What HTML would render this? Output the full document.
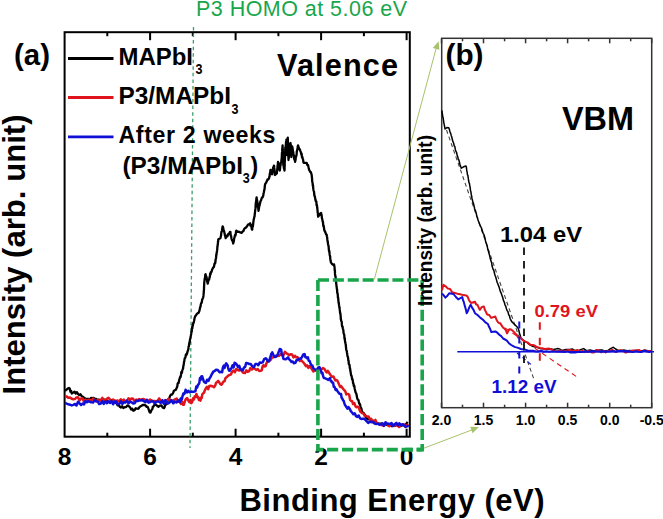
<!DOCTYPE html>
<html><head><meta charset="utf-8"><style>
html,body{margin:0;padding:0;background:#fff;width:663px;height:519px;overflow:hidden}
svg{display:block}
</style></head><body>
<svg width="663" height="519" viewBox="0 0 663 519">
<rect width="663" height="519" fill="#fff"/>
<rect x="64.6" y="32.2" width="345.2" height="404.5" fill="none" stroke="#000" stroke-width="2"/>
<line x1="107.3" y1="32.2" x2="107.3" y2="36.2" stroke="#000" stroke-width="2"/>
<line x1="107.3" y1="436.7" x2="107.3" y2="432.7" stroke="#000" stroke-width="2"/>
<line x1="150.1" y1="32.2" x2="150.1" y2="40.2" stroke="#000" stroke-width="2"/>
<line x1="150.1" y1="436.7" x2="150.1" y2="428.7" stroke="#000" stroke-width="2"/>
<line x1="192.8" y1="32.2" x2="192.8" y2="36.2" stroke="#000" stroke-width="2"/>
<line x1="192.8" y1="436.7" x2="192.8" y2="432.7" stroke="#000" stroke-width="2"/>
<line x1="235.6" y1="32.2" x2="235.6" y2="40.2" stroke="#000" stroke-width="2"/>
<line x1="235.6" y1="436.7" x2="235.6" y2="428.7" stroke="#000" stroke-width="2"/>
<line x1="278.4" y1="32.2" x2="278.4" y2="36.2" stroke="#000" stroke-width="2"/>
<line x1="278.4" y1="436.7" x2="278.4" y2="432.7" stroke="#000" stroke-width="2"/>
<line x1="321.1" y1="32.2" x2="321.1" y2="40.2" stroke="#000" stroke-width="2"/>
<line x1="321.1" y1="436.7" x2="321.1" y2="428.7" stroke="#000" stroke-width="2"/>
<line x1="363.9" y1="32.2" x2="363.9" y2="36.2" stroke="#000" stroke-width="2"/>
<line x1="363.9" y1="436.7" x2="363.9" y2="432.7" stroke="#000" stroke-width="2"/>
<line x1="406.6" y1="32.2" x2="406.6" y2="40.2" stroke="#000" stroke-width="2"/>
<line x1="406.6" y1="436.7" x2="406.6" y2="428.7" stroke="#000" stroke-width="2"/>
<line x1="193.5" y1="27" x2="190" y2="448" stroke="#3a9d6a" stroke-width="1.3" stroke-dasharray="3.5,3.05"/>
<polyline points="65.0,390.8 66.3,389.8 67.7,388.6 69.0,388.0 69.7,388.4 70.4,391.7 71.1,390.8 71.8,393.5 73.2,392.6 74.5,391.7 75.7,393.5 76.9,392.1 78.1,394.1 79.3,395.0 80.5,394.3 81.7,396.2 83.1,396.8 84.4,398.0 85.8,399.0 87.1,398.9 88.4,398.8 89.7,399.5 91.0,398.0 92.3,398.2 93.6,397.9 94.9,398.9 96.2,398.9 97.5,400.3 98.8,399.6 100.1,400.4 101.3,399.6 102.6,400.8 103.9,399.4 105.2,400.7 106.5,400.4 107.8,401.7 109.1,402.1 110.4,401.5 111.7,400.9 113.0,401.6 114.3,402.5 115.4,402.4 116.5,403.3 117.7,405.4 118.8,404.5 119.9,406.9 121.0,407.6 122.2,406.2 123.3,408.0 124.7,407.2 126.1,407.1 127.4,405.4 128.8,406.2 129.9,407.1 131.1,409.5 132.2,408.6 133.3,410.7 134.6,410.2 135.8,408.2 137.1,408.7 138.3,408.8 139.6,407.0 141.2,405.9 142.7,405.0 144.2,404.9 145.8,405.6 146.6,406.9 147.4,406.6 148.2,408.0 148.9,410.2 149.7,412.4 150.5,412.5 151.1,411.1 151.7,409.8 152.3,409.2 152.9,406.6 153.5,406.6 154.1,405.2 155.6,404.4 157.0,405.7 158.4,406.7 159.9,405.6 161.3,405.3 162.6,407.4 164.0,408.1 164.6,407.1 165.3,404.6 165.9,403.6 166.6,404.2 167.2,403.0 167.9,399.4 168.5,399.6 169.2,399.0 169.8,396.5 170.9,394.7 172.0,394.5 173.1,393.1 173.9,390.7 174.8,390.3 175.7,389.9 176.5,388.2 176.9,387.2 177.3,386.4 177.7,383.4 178.2,382.8 178.6,382.9 179.0,380.9 179.4,379.3 179.8,378.2 180.2,376.7 180.6,377.0 181.0,374.7 181.4,372.0 181.9,372.8 182.3,370.3 182.7,369.4 183.1,368.3 183.3,366.1 183.6,365.3 183.8,363.6 184.1,361.5 184.3,361.5 184.6,358.7 184.8,358.3 185.4,357.7 185.9,354.3 186.4,354.9 187.0,353.6 187.6,351.4 188.1,350.0 188.4,349.2 188.6,346.6 188.9,346.5 189.1,344.4 189.4,342.5 189.6,343.1 189.9,340.2 190.2,338.8 190.4,338.7 190.7,336.1 190.9,335.5 191.2,333.7 191.4,331.5 191.7,331.9 191.9,329.1 192.1,327.2 192.4,328.3 192.6,324.9 192.9,325.6 193.1,323.1 193.6,323.1 194.1,320.8 194.6,318.0 195.0,316.8 195.5,315.9 196.0,315.4 196.9,313.9 197.8,313.2 198.6,312.9 199.5,310.5 199.8,308.9 200.2,307.0 200.5,306.9 200.8,304.5 201.2,303.1 201.5,303.1 201.8,302.2 202.2,299.3 202.5,299.0 202.8,298.4 203.2,297.3 203.5,295.4 203.6,293.7 203.7,293.7 203.8,290.5 203.9,290.5 204.0,289.3 204.0,288.3 204.1,285.9 204.2,283.5 204.3,282.0 204.4,281.9 204.5,280.5 204.8,278.1 205.1,277.7 205.3,274.7 205.6,274.2 205.9,276.3 206.2,276.2 206.5,277.0 206.8,278.8 207.1,280.9 207.4,282.5 207.7,283.7 208.1,282.1 208.4,280.3 208.8,279.8 209.1,279.7 209.5,277.3 209.8,277.1 210.2,273.5 210.5,274.7 210.9,272.1 211.5,271.9 212.1,269.8 212.7,268.5 213.3,267.3 213.9,267.1 214.5,263.7 215.1,263.6 215.3,262.6 215.5,261.0 215.7,259.0 215.9,258.8 216.1,257.4 216.3,254.4 216.5,254.6 216.7,252.6 216.9,251.4 217.1,250.4 217.3,248.7 217.4,246.2 217.6,246.3 217.7,244.3 217.9,244.3 218.0,241.2 218.2,241.4 218.3,239.2 220.4,238.2 220.6,237.5 220.9,235.9 221.1,235.3 221.4,231.8 221.6,232.0 221.9,230.7 222.1,229.6 222.4,227.6 222.6,226.5 222.9,226.7 223.3,228.3 223.6,230.7 224.0,230.9 224.3,231.9 224.7,233.9 225.0,235.5 225.4,237.0 225.7,238.2 226.6,235.7 227.4,236.4 228.3,233.9 229.1,233.8 230.0,231.8 230.4,231.8 230.7,235.6 231.1,235.9 231.4,238.2 231.8,239.6 232.1,240.5 232.5,239.9 232.8,241.8 233.2,243.5 233.5,241.5 233.8,241.7 234.1,238.9 234.4,237.7 234.8,236.1 235.1,234.8 235.4,235.7 235.7,234.5 236.0,231.6 236.3,230.7 237.6,231.9 238.9,231.7 240.3,232.4 241.6,232.9 242.5,231.5 243.4,231.1 244.2,229.0 245.1,228.0 246.0,227.6 246.9,226.5 248.0,224.6 249.0,224.2 250.1,223.3 250.5,225.7 250.9,224.6 251.4,226.1 251.8,229.2 252.2,229.7 252.4,227.1 252.7,226.2 252.9,226.4 253.1,224.3 253.4,221.9 253.6,220.1 253.8,219.2 254.1,217.9 254.3,217.0 254.5,216.5 254.6,215.6 254.8,213.8 254.9,212.8 255.1,211.6 255.2,210.1 255.4,208.9 255.5,207.8 255.7,204.2 255.8,203.5 256.0,202.0 256.1,201.6 256.3,200.0 256.4,198.3 256.6,197.4 256.8,199.6 257.0,199.8 257.2,200.7 257.4,202.2 257.6,204.1 257.7,205.8 257.9,207.0 258.1,208.0 258.3,208.7 258.5,210.9 258.8,209.3 259.0,207.7 259.3,205.9 259.6,205.5 259.9,203.2 260.1,203.2 260.4,201.3 261.1,200.3 261.9,197.5 262.6,197.3 263.3,195.5 263.5,193.6 263.8,192.5 264.0,191.5 264.2,190.4 264.5,189.3 264.7,187.5 265.0,184.7 265.2,184.0 266.0,182.9 266.8,181.3 267.5,179.3 268.3,179.5 269.1,178.2 269.3,176.8 269.6,176.4 269.8,173.6 270.0,173.6 270.3,171.4 270.5,170.0 271.0,170.4 271.5,173.4 272.0,174.3 272.3,172.3 272.6,171.5 272.9,168.8 273.3,167.2 273.6,168.1 273.9,165.6 274.1,165.8 274.2,167.4 274.4,168.8 274.5,169.9 274.7,173.2 274.8,174.9 275.0,175.0 276.8,173.4 276.9,172.4 277.1,170.3 277.2,170.1 277.4,167.7 277.6,165.3 277.7,165.3 277.9,163.1 278.0,162.0 278.3,162.8 278.6,164.4 278.9,166.0 279.1,166.8 279.4,169.4 279.7,170.5 279.9,170.2 280.1,168.1 280.3,165.4 280.5,165.8 280.8,162.8 281.0,162.7 281.2,162.4 281.4,160.6 281.6,158.9 281.7,158.6 281.8,156.9 281.9,154.3 282.0,152.6 282.1,152.0 282.2,151.3 282.3,148.8 282.4,147.7 282.5,147.4 282.6,145.4 282.6,146.3 282.7,148.3 282.7,149.4 282.8,151.7 282.8,150.7 282.9,152.4 282.9,155.3 283.0,156.3 283.0,156.1 283.1,157.5 283.1,159.0 283.2,161.2 283.2,163.4 283.3,163.0 283.3,165.0 283.6,165.6 283.9,168.2 284.2,168.9 284.5,170.5 284.5,170.0 284.6,169.1 284.6,167.5 284.7,165.6 284.7,163.7 284.8,161.2 284.8,161.7 284.9,159.3 284.9,158.1 285.0,157.2 285.0,156.7 285.1,154.2 285.1,153.8 285.2,152.6 285.2,150.0 285.3,147.6 285.5,147.0 285.6,147.1 285.8,145.5 285.9,144.7 286.1,141.4 286.2,141.0 286.4,139.6 286.5,142.1 286.5,142.5 286.6,144.2 286.7,146.4 286.7,145.8 286.8,146.8 286.8,150.3 286.9,151.0 287.0,151.4 287.0,154.5 287.1,155.0 287.2,153.1 287.2,151.4 287.3,150.5 287.3,148.5 287.4,148.1 287.4,147.7 287.5,145.6 287.5,145.6 287.6,141.8 287.6,140.8 287.7,139.4 287.7,139.2 287.8,137.7 287.8,138.2 287.9,140.8 287.9,141.7 288.0,143.2 288.0,145.2 288.0,146.3 288.1,148.0 288.1,147.3 288.2,149.2 288.2,152.0 288.3,151.9 288.3,152.9 288.3,154.7 288.4,155.2 288.4,158.3 288.5,159.0 288.5,160.0 288.6,157.5 288.8,158.3 288.9,155.7 289.0,153.5 289.2,153.0 289.3,151.2 289.5,151.0 289.7,148.1 289.9,145.8 290.1,144.9 290.3,143.2 290.5,143.0 290.6,144.5 290.7,145.3 290.7,148.1 290.8,147.8 290.9,148.7 291.0,151.3 291.1,151.8 291.1,153.7 291.2,154.9 291.3,157.0 291.4,154.8 291.5,154.7 291.6,154.2 291.8,151.4 291.9,150.7 292.0,148.6 292.1,148.8 292.2,146.4 292.4,148.0 292.6,148.0 292.9,151.3 293.1,151.4 293.3,152.4 293.5,155.0 293.8,155.1 294.1,158.6 294.5,159.6 294.8,160.1 295.1,161.8 295.3,160.6 295.6,159.6 295.8,156.6 296.1,156.9 296.3,155.5 296.6,154.8 296.8,151.1 297.0,151.1 297.3,149.5 297.5,149.0 297.8,146.4 298.0,145.4 298.6,147.2 299.2,149.2 299.7,149.1 300.3,150.9 300.9,152.2 301.3,154.5 301.6,153.6 302.0,157.4 302.4,157.0 302.7,158.7 303.1,159.6 303.4,162.2 303.8,162.8 305.2,162.9 306.7,162.8 307.3,165.0 308.0,165.0 308.6,167.6 309.2,169.9 309.8,171.1 310.3,172.1 310.9,172.2 311.5,174.3 311.7,175.2 311.9,177.3 312.0,177.8 312.2,181.6 312.4,182.0 312.6,183.1 312.8,185.9 313.0,185.2 313.2,187.8 313.4,189.5 313.6,190.5 313.8,191.3 314.0,191.5 314.2,194.0 314.4,195.5 314.9,196.7 315.4,199.6 315.8,201.1 316.3,201.3 316.5,203.9 316.6,205.3 316.8,204.6 317.0,205.7 317.2,207.8 317.3,208.4 317.5,210.1 317.7,212.7 317.9,213.1 318.0,215.6 318.2,216.7 319.2,215.1 320.1,213.6 321.1,212.9 321.4,215.5 321.6,214.9 321.9,218.2 322.1,218.6 322.4,220.0 322.7,221.7 322.9,221.7 323.2,224.6 323.4,226.3 323.7,225.8 324.0,227.9 324.2,229.7 324.5,230.6 325.2,231.9 326.0,234.1 326.7,234.8 326.9,236.5 327.1,236.9 327.3,239.2 327.5,240.8 327.7,241.3 327.9,242.9 328.1,244.4 328.3,245.3 328.5,245.6 328.7,247.7 328.9,250.0 329.1,251.2 329.3,250.8 329.5,253.1 329.7,254.7 329.9,255.9 330.1,256.2 330.3,258.8 330.5,260.3 330.7,261.2 330.9,262.4 332.5,264.6 334.1,264.5 334.2,266.1 334.4,266.0 334.6,268.0 334.7,270.5 334.9,270.2 335.0,273.9 335.1,274.6 335.3,276.1 335.4,275.9 335.6,276.9 335.8,280.5 335.9,280.9 336.1,282.1 336.2,283.6 336.4,284.9 336.6,286.9 336.7,287.2 336.9,289.5 337.1,289.2 337.2,292.6 337.4,293.2 337.6,293.5 337.8,295.2 337.9,297.6 338.1,297.4 338.3,299.7 338.5,301.6 338.6,303.0 338.8,302.5 339.0,305.2 339.2,306.0 339.4,307.8 339.5,307.2 339.7,309.4 339.9,310.8 340.1,313.0 340.2,313.4 340.4,313.6 340.6,315.3 340.8,318.3 340.9,319.7 341.1,320.0 341.4,321.6 341.7,321.7 341.9,324.9 342.2,326.5 342.5,326.4 342.8,328.3 343.1,329.2 343.3,330.0 343.6,333.1 343.9,333.9 344.1,334.3 344.3,335.4 344.5,338.9 344.8,338.1 345.0,341.1 345.2,342.5 345.4,342.4 345.6,344.0 345.8,344.9 346.0,347.4 346.2,349.4 346.4,350.1 346.7,350.8 346.9,352.2 347.1,353.2 347.3,354.7 347.6,356.6 347.8,356.7 348.1,358.0 348.3,360.5 348.6,360.7 348.8,363.9 349.1,364.5 349.3,364.4 349.6,365.3 349.8,368.2 350.1,368.3 350.3,370.6 350.6,372.1 350.8,373.2 351.1,375.3 351.5,375.6 351.8,377.3 352.1,379.3 352.4,378.9 352.8,380.7 353.1,383.3 353.4,383.4 353.8,386.2 354.1,385.3 354.4,386.7 354.7,388.7 355.1,390.3 355.4,391.7 355.8,392.7 356.3,393.6 356.7,395.5 357.1,397.9 357.6,399.3 358.0,399.8 358.5,400.2 358.9,402.1 359.3,403.6 359.8,403.8 360.2,404.9 360.6,408.1 361.1,408.0 361.5,409.0 362.0,412.0 362.4,412.5 363.4,412.7 364.3,414.1 365.3,415.0 366.3,418.1 367.2,418.7 368.2,419.4 369.5,419.2 370.9,419.5 372.2,422.2 373.5,420.8 374.9,422.9 376.2,422.9 377.5,423.6 378.8,423.6 380.1,423.6 381.4,423.7 382.6,423.6 383.9,424.8 385.2,423.8 386.5,424.9 387.8,425.2 389.2,424.6 390.5,424.9 391.9,426.2 393.2,425.4 394.6,425.6 395.9,425.6 397.2,423.9 398.6,425.9 399.9,426.2 401.3,425.8 402.6,425.3 404.0,425.2 405.2,424.9 406.3,424.0 407.5,421.7" fill="none" stroke="#000" stroke-width="2.3" stroke-linejoin="round"/>
<polyline points="65.0,397.0 66.7,396.3 68.3,397.8 70.0,397.5 71.7,398.7 73.3,399.2 75.0,399.0 76.5,397.4 78.0,397.3 79.5,400.6 81.0,398.4 82.5,398.4 84.0,401.6 85.5,399.6 87.0,401.1 88.5,399.8 90.0,400.0 91.5,400.5 93.1,398.5 94.6,400.4 96.2,401.3 97.7,399.9 99.2,400.7 100.8,400.4 102.3,397.9 103.8,400.7 105.4,400.0 106.9,398.8 108.5,397.7 110.0,399.5 111.5,401.0 113.1,399.5 114.6,400.5 116.2,401.2 117.7,400.5 119.2,401.4 120.8,399.3 122.3,401.0 123.8,399.6 125.4,401.6 126.9,401.4 128.5,398.4 130.0,400.0 131.5,398.5 133.1,398.8 134.6,401.7 136.2,399.6 137.7,400.3 139.2,399.0 140.8,399.8 142.3,399.2 143.8,399.1 145.4,400.0 146.9,399.9 148.5,401.2 150.0,399.5 151.5,400.3 153.1,401.3 154.6,401.0 156.2,401.6 157.7,400.4 159.2,398.4 160.8,401.2 162.3,401.7 163.8,401.5 165.4,400.2 166.9,400.8 168.5,398.8 170.0,400.0 171.7,401.4 173.3,400.5 175.0,399.4 176.7,398.6 178.3,401.8 180.0,400.5 181.0,403.9 182.1,401.7 183.1,404.8 183.9,404.7 184.7,401.8 185.6,399.4 186.4,398.6 187.2,398.1 188.2,400.4 189.3,402.1 190.3,400.0 191.4,403.1 192.2,402.0 193.1,398.2 193.9,399.4 194.7,396.4 195.6,397.0 196.4,394.0 197.2,397.2 198.0,396.7 198.9,400.0 199.7,398.5 200.5,400.6 201.1,397.5 201.7,398.1 202.3,394.4 202.9,393.7 203.5,393.1 204.1,392.5 204.7,390.6 205.9,388.2 207.0,386.8 208.2,389.1 209.3,385.9 210.5,385.7 213.0,386.5 214.0,387.2 215.1,385.8 216.1,382.7 217.2,381.9 218.2,380.9 219.2,382.3 220.3,384.1 221.3,384.8 222.1,383.9 222.9,382.4 223.8,381.3 224.6,381.3 225.4,378.2 226.8,377.1 228.2,375.7 229.6,374.9 230.9,374.6 232.2,371.5 233.6,370.6 234.9,372.2 236.2,369.1 237.6,369.9 239.1,370.6 240.6,369.1 242.0,371.4 243.4,372.8 244.9,373.1 246.3,370.4 247.7,371.9 249.1,371.2 250.4,368.1 251.8,369.5 253.2,368.2 254.7,368.6 256.2,369.9 257.7,369.1 259.2,371.0 260.7,370.7 261.7,370.4 262.6,366.3 263.6,365.2 264.6,366.4 265.5,366.3 266.5,363.2 267.8,361.0 269.1,360.7 270.5,360.1 271.8,357.8 273.1,357.4 274.6,356.4 276.1,355.7 277.5,355.5 279.0,355.9 280.5,354.3 282.0,354.1 283.4,355.2 284.9,351.8 286.4,353.2 287.8,354.1 289.2,355.3 290.6,354.2 292.1,354.5 293.5,357.4 294.9,355.8 296.3,357.4 297.5,357.1 298.7,359.0 299.9,361.0 301.0,359.6 302.2,361.4 303.4,362.4 304.6,364.0 305.9,366.2 307.1,365.4 308.4,367.9 309.6,366.0 310.9,367.5 312.1,369.6 313.4,371.4 314.6,370.7 316.3,370.2 317.9,369.0 319.6,368.3 321.3,369.7 322.9,368.0 324.6,369.0 325.7,371.3 326.8,372.5 327.8,370.9 328.9,372.4 330.0,374.3 331.8,376.7 333.5,376.6 334.4,378.5 335.4,380.5 336.4,380.0 337.3,380.5 338.2,382.5 339.2,384.7 340.2,387.0 341.2,386.1 342.2,387.6 343.2,389.0 344.3,390.2 345.3,391.3 346.3,394.5 347.3,394.0 348.2,394.0 349.2,394.8 350.1,399.9 351.1,401.0 352.0,400.9 353.1,404.0 354.3,403.0 355.4,406.2 356.6,407.2 357.7,406.7 358.7,406.9 359.7,410.3 360.7,412.0 361.7,412.7 362.7,413.4 363.7,413.8 364.7,416.0 366.0,416.1 367.3,416.4 368.6,416.5 370.0,419.4 371.3,418.9 372.6,421.8 373.9,421.3 375.4,419.9 377.0,423.8 378.5,423.4 380.1,424.7 381.6,425.1 383.2,425.5 384.7,424.6 386.3,422.8 387.8,425.2 389.4,426.2 391.0,423.9 392.6,424.4 394.2,425.9 395.8,425.3 397.4,424.9 399.0,427.0 400.6,425.6 402.2,424.6 403.8,424.2 405.4,426.6 407.0,425.1 408.6,425.2" fill="none" stroke="#e0141c" stroke-width="2.5" stroke-linejoin="round"/>
<polyline points="65.0,403.0 66.7,403.7 68.3,404.3 70.0,404.7 71.7,405.4 73.3,404.8 75.0,404.0 76.5,405.5 78.0,401.7 79.5,403.3 81.0,405.0 82.5,403.6 84.0,404.4 85.5,401.1 87.0,402.3 88.5,401.2 90.0,402.0 91.5,402.3 93.1,402.4 94.6,400.3 96.2,401.2 97.7,401.5 99.2,404.1 100.8,403.6 102.3,401.3 103.8,403.9 105.4,401.3 106.9,403.3 108.5,401.4 110.0,403.0 111.5,400.9 113.1,404.3 114.6,401.5 116.2,401.4 117.7,404.4 119.2,403.8 120.8,401.3 122.3,403.9 123.8,402.1 125.4,402.6 126.9,400.5 128.5,403.4 130.0,401.5 131.5,402.3 133.1,403.4 134.6,403.2 136.2,400.8 137.7,401.1 139.2,400.4 140.8,400.4 142.3,400.1 143.8,401.1 145.4,402.3 146.9,399.9 148.5,402.7 150.0,402.0 151.5,401.4 153.1,401.2 154.6,403.3 156.2,401.9 157.7,401.3 159.2,401.9 160.8,402.8 162.3,400.2 163.8,403.9 165.4,400.1 166.9,403.0 168.5,403.4 170.0,402.0 171.6,400.1 173.3,403.3 174.9,401.6 176.5,402.5 178.2,400.3 179.8,402.3 180.5,399.0 181.2,398.0 181.8,399.6 182.5,396.3 183.3,393.5 184.1,394.1 184.8,393.1 185.6,389.8 187.0,392.4 188.3,390.8 189.7,392.3 191.4,391.5 193.0,391.9 194.7,391.5 195.5,390.9 196.3,386.6 197.2,387.5 198.0,384.8 198.7,384.3 199.3,382.9 200.0,378.0 200.6,379.9 201.3,376.5 202.2,376.3 203.0,378.8 203.8,381.4 204.7,382.4 205.9,383.0 207.1,379.7 208.4,380.9 209.6,378.2 210.5,377.0 211.5,374.7 212.4,373.3 213.4,371.4 214.3,371.3 216.1,369.7 217.8,370.0 219.6,372.3 221.3,371.6 222.1,372.2 222.9,367.5 223.8,365.6 224.6,368.0 225.4,364.8 226.2,363.3 226.9,364.4 227.6,365.2 228.2,368.1 228.9,370.5 229.6,370.7 230.6,369.3 231.6,367.9 232.6,365.2 233.6,367.4 234.6,362.7 235.6,363.3 236.8,364.6 238.0,367.3 239.2,365.7 240.4,369.4 241.6,369.8 242.8,370.3 243.9,367.7 245.1,367.0 246.2,362.9 247.4,363.2 249.1,364.0 250.7,364.0 252.4,366.5 253.9,367.1 255.4,364.0 256.8,363.9 258.3,365.2 259.8,362.4 261.3,362.8 262.8,362.2 264.2,359.1 265.7,358.2 266.8,359.3 267.9,361.3 269.0,361.5 269.6,359.9 270.1,357.6 270.6,356.6 271.2,354.0 271.8,353.4 272.3,352.4 273.7,355.7 275.0,357.0 276.4,356.5 277.2,355.5 278.1,353.5 278.9,351.4 279.8,348.9 280.6,349.1 281.2,349.8 281.7,353.5 282.2,355.5 282.8,355.1 283.3,358.5 283.9,359.0 285.9,359.3 288.0,357.4 289.2,359.3 290.4,360.4 291.5,361.9 292.7,361.5 293.9,363.2 295.3,362.9 296.6,360.1 298.0,359.9 299.3,358.7 300.6,358.7 302.0,357.2 303.3,354.4 304.6,354.1 305.4,357.2 306.3,357.3 307.1,358.3 307.9,357.3 308.7,360.8 309.6,360.9 310.4,363.2 311.4,365.2 312.4,365.7 313.4,368.4 314.4,369.1 315.4,369.8 316.8,370.2 318.2,367.5 319.6,367.3 320.3,369.4 321.0,371.3 321.7,373.2 322.5,372.9 323.2,376.4 323.9,378.0 324.6,378.1 326.4,378.8 328.2,379.9 330.0,378.0 330.8,381.3 331.5,381.1 332.3,382.6 333.1,382.7 333.8,386.8 334.6,387.0 335.6,389.9 336.5,389.2 337.5,391.3 338.5,392.5 339.4,393.8 340.4,394.0 341.0,394.1 341.7,397.9 342.3,398.6 343.0,400.3 343.6,400.7 344.3,403.0 344.9,405.0 345.6,405.8 346.2,406.7 347.4,408.7 348.5,407.1 349.7,408.8 350.8,411.1 352.0,412.5 353.3,414.1 354.7,413.3 356.0,416.1 357.3,416.9 358.7,415.5 360.0,418.3 361.4,419.0 362.7,418.7 364.1,418.8 365.5,419.9 366.8,421.4 368.2,422.9 369.8,421.8 371.4,422.1 373.0,421.7 374.6,423.6 376.2,424.0 377.7,423.6 379.3,424.6 380.8,424.5 382.4,423.2 383.9,425.9 385.5,422.3 387.0,424.0 388.5,423.6 390.1,424.2 391.6,423.0 393.2,426.0 394.7,424.2 396.3,422.9 397.8,425.3 399.3,423.2 400.9,425.1 402.4,424.3 404.0,425.4 405.5,426.9 407.1,426.4 408.6,425.2" fill="none" stroke="#0f0fd8" stroke-width="2.5" stroke-linejoin="round"/>
<line x1="68" y1="58.5" x2="113.5" y2="58.5" stroke="#000" stroke-width="2.8"/>
<line x1="68" y1="97.5" x2="113.5" y2="97.5" stroke="#e0141c" stroke-width="2.8"/>
<line x1="68" y1="136.8" x2="113.5" y2="136.8" stroke="#0f0fd8" stroke-width="2.8"/>
<text x="118.5" y="64.8" font-family="Liberation Sans, sans-serif" font-weight="bold" font-size="23.2" textLength="74.5" lengthAdjust="spacingAndGlyphs">MAPbI</text>
<text x="195.5" y="74.4" font-family="Liberation Sans, sans-serif" font-weight="bold" font-size="14.5" textLength="7" lengthAdjust="spacingAndGlyphs">3</text>
<text x="118.5" y="104.3" font-family="Liberation Sans, sans-serif" font-weight="bold" font-size="23.2" textLength="112.5" lengthAdjust="spacingAndGlyphs">P3/MAPbI</text>
<text x="231.5" y="114.2" font-family="Liberation Sans, sans-serif" font-weight="bold" font-size="14.5" textLength="7" lengthAdjust="spacingAndGlyphs">3</text>
<text x="118.5" y="142.8" font-family="Liberation Sans, sans-serif" font-weight="bold" font-size="23.2" textLength="157" lengthAdjust="spacing">After 2 weeks</text>
<text x="122.5" y="173.5" font-family="Liberation Sans, sans-serif" font-weight="bold" font-size="23.2" textLength="120.5" lengthAdjust="spacingAndGlyphs">(P3/MAPbI</text>
<text x="242.7" y="183.1" font-family="Liberation Sans, sans-serif" font-weight="bold" font-size="14.5" textLength="7" lengthAdjust="spacingAndGlyphs">3</text>
<text x="250.5" y="173.5" font-family="Liberation Sans, sans-serif" font-weight="bold" font-size="23.2">)</text>
<text x="277" y="76.2" font-family="Liberation Sans, sans-serif" font-weight="bold" font-size="30.7" textLength="121" lengthAdjust="spacing">Valence</text>
<text x="14" y="65.1" font-family="Liberation Sans, sans-serif" font-weight="bold" font-size="30" textLength="36" lengthAdjust="spacingAndGlyphs">(a)</text>
<text transform="translate(24.5,394.5) rotate(-90)" font-family="Liberation Sans, sans-serif" font-weight="bold" font-size="31" textLength="280" lengthAdjust="spacingAndGlyphs">Intensity (arb. unit)</text>
<text x="239.5" y="510.9" font-family="Liberation Sans, sans-serif" font-weight="bold" font-size="31" textLength="305" lengthAdjust="spacing">Binding Energy (eV)</text>
<text x="64.6" y="465.3" font-family="Liberation Sans, sans-serif" font-weight="bold" font-size="24.5" text-anchor="middle">8</text>
<text x="150.1" y="465.3" font-family="Liberation Sans, sans-serif" font-weight="bold" font-size="24.5" text-anchor="middle">6</text>
<text x="235.6" y="465.3" font-family="Liberation Sans, sans-serif" font-weight="bold" font-size="24.5" text-anchor="middle">4</text>
<text x="321.1" y="465.3" font-family="Liberation Sans, sans-serif" font-weight="bold" font-size="24.5" text-anchor="middle">2</text>
<text x="406.6" y="465.3" font-family="Liberation Sans, sans-serif" font-weight="bold" font-size="24.5" text-anchor="middle">0</text>
<text x="196" y="16.3" font-family="Liberation Sans, sans-serif" font-size="21.5" fill="#19a64b" textLength="211" lengthAdjust="spacing">P3 HOMO at 5.06 eV</text>
<path d="M317.9,280 H422.2" fill="none" stroke="#19a64b" stroke-width="3.6" stroke-dasharray="11.1,3.8"/>
<path d="M422.2,280 V449.6 H405" fill="none" stroke="#19a64b" stroke-width="3.6" stroke-dasharray="11.1,3.8"/>
<path d="M317.9,280 V449.6 H422.2" fill="none" stroke="#19a64b" stroke-width="3.6" stroke-dasharray="11.1,3.8"/>
<line x1="374.3" y1="279.4" x2="436.1" y2="48.5" stroke="#a8c26c" stroke-width="1.0"/>
<polygon points="438.6,41.2 432.8,48 439.4,49.8" fill="#a8c26c"/>
<line x1="423.9" y1="448.2" x2="473" y2="429.5" stroke="#a8c26c" stroke-width="1.0"/>
<polygon points="478.8,427.1 470.2,426.8 472.6,433.2" fill="#a8c26c"/>
<rect x="441.7" y="38.3" width="210" height="369.4" fill="none" stroke="#333" stroke-width="1.5"/>
<line x1="441.5" y1="38.3" x2="441.5" y2="43.3" stroke="#333" stroke-width="1.5"/>
<line x1="441.5" y1="407.7" x2="441.5" y2="402.7" stroke="#333" stroke-width="1.5"/>
<line x1="462.5" y1="38.3" x2="462.5" y2="41.3" stroke="#333" stroke-width="1.5"/>
<line x1="462.5" y1="407.7" x2="462.5" y2="404.7" stroke="#333" stroke-width="1.5"/>
<line x1="483.5" y1="38.3" x2="483.5" y2="43.3" stroke="#333" stroke-width="1.5"/>
<line x1="483.5" y1="407.7" x2="483.5" y2="402.7" stroke="#333" stroke-width="1.5"/>
<line x1="504.6" y1="38.3" x2="504.6" y2="41.3" stroke="#333" stroke-width="1.5"/>
<line x1="504.6" y1="407.7" x2="504.6" y2="404.7" stroke="#333" stroke-width="1.5"/>
<line x1="525.6" y1="38.3" x2="525.6" y2="43.3" stroke="#333" stroke-width="1.5"/>
<line x1="525.6" y1="407.7" x2="525.6" y2="402.7" stroke="#333" stroke-width="1.5"/>
<line x1="546.6" y1="38.3" x2="546.6" y2="41.3" stroke="#333" stroke-width="1.5"/>
<line x1="546.6" y1="407.7" x2="546.6" y2="404.7" stroke="#333" stroke-width="1.5"/>
<line x1="567.6" y1="38.3" x2="567.6" y2="43.3" stroke="#333" stroke-width="1.5"/>
<line x1="567.6" y1="407.7" x2="567.6" y2="402.7" stroke="#333" stroke-width="1.5"/>
<line x1="588.6" y1="38.3" x2="588.6" y2="41.3" stroke="#333" stroke-width="1.5"/>
<line x1="588.6" y1="407.7" x2="588.6" y2="404.7" stroke="#333" stroke-width="1.5"/>
<line x1="609.7" y1="38.3" x2="609.7" y2="43.3" stroke="#333" stroke-width="1.5"/>
<line x1="609.7" y1="407.7" x2="609.7" y2="402.7" stroke="#333" stroke-width="1.5"/>
<line x1="630.7" y1="38.3" x2="630.7" y2="41.3" stroke="#333" stroke-width="1.5"/>
<line x1="630.7" y1="407.7" x2="630.7" y2="404.7" stroke="#333" stroke-width="1.5"/>
<line x1="651.7" y1="38.3" x2="651.7" y2="43.3" stroke="#333" stroke-width="1.5"/>
<line x1="651.7" y1="407.7" x2="651.7" y2="402.7" stroke="#333" stroke-width="1.5"/>
<text x="441.5" y="424.7" font-family="Liberation Sans, sans-serif" font-weight="bold" font-size="14" text-anchor="middle">2.0</text>
<text x="483.5" y="424.7" font-family="Liberation Sans, sans-serif" font-weight="bold" font-size="14" text-anchor="middle">1.5</text>
<text x="525.6" y="424.7" font-family="Liberation Sans, sans-serif" font-weight="bold" font-size="14" text-anchor="middle">1.0</text>
<text x="567.6" y="424.7" font-family="Liberation Sans, sans-serif" font-weight="bold" font-size="14" text-anchor="middle">0.5</text>
<text x="609.7" y="424.7" font-family="Liberation Sans, sans-serif" font-weight="bold" font-size="14" text-anchor="middle">0.0</text>
<text x="651.7" y="424.7" font-family="Liberation Sans, sans-serif" font-weight="bold" font-size="14" text-anchor="middle">-0.5</text>
<text x="445.5" y="64.8" font-family="Liberation Sans, sans-serif" font-weight="bold" font-size="30" textLength="38" lengthAdjust="spacingAndGlyphs">(b)</text>
<text x="562" y="129.5" font-family="Liberation Sans, sans-serif" font-weight="bold" font-size="33.5" textLength="72" lengthAdjust="spacingAndGlyphs">VBM</text>
<text transform="translate(432,306) rotate(-90)" font-family="Liberation Sans, sans-serif" font-weight="bold" font-size="20" textLength="171" lengthAdjust="spacingAndGlyphs">Intensity (arb. unit)</text>
<line x1="446.5" y1="130" x2="534.5" y2="381" stroke="#444" stroke-width="1.1" stroke-dasharray="4,3"/>
<line x1="517" y1="353" x2="533" y2="366" stroke="#0f0fd8" stroke-width="1.1" stroke-dasharray="4,3"/>
<line x1="505" y1="328" x2="577" y2="377" stroke="#e0141c" stroke-width="1.1" stroke-dasharray="5,4"/>
<polyline points="441.8,110.4 442.2,112.5 442.5,115.0 442.9,117.3 443.2,118.3 443.6,121.2 443.9,123.1 444.3,125.1 444.6,126.3 445.0,129.0 446.9,127.6 448.8,127.7 449.4,129.4 450.0,132.0 450.6,133.1 451.2,135.4 451.8,137.1 452.4,139.8 453.0,141.9 453.6,143.0 454.2,145.9 454.8,146.3 455.3,149.4 455.9,151.4 456.5,152.2 457.1,155.0 457.7,156.7 458.3,159.3 458.9,160.0 459.5,162.5 460.1,165.0 460.7,166.5 461.3,168.2 463.6,166.8 466.0,166.0 466.4,167.3 466.8,170.7 467.1,172.0 467.5,174.8 467.9,175.4 468.3,178.5 468.6,180.5 469.0,182.7 469.4,183.2 469.8,185.8 470.1,187.3 470.5,190.4 470.9,191.8 471.3,194.7 471.6,195.8 472.0,198.4 472.4,200.0 473.0,202.6 473.5,203.6 474.1,206.1 474.6,208.7 475.2,210.0 475.8,211.8 476.3,213.6 476.9,216.5 477.4,217.5 478.0,220.0 478.9,222.3 479.7,224.3 480.6,226.4 481.4,227.8 482.3,230.8 483.1,233.3 484.0,234.7 484.5,236.5 485.1,238.5 485.6,241.5 486.2,243.0 486.7,244.5 487.2,246.2 487.8,249.4 488.3,250.8 488.9,253.0 489.4,254.7 490.0,257.4 490.5,259.6 491.0,260.9 491.6,262.6 492.1,266.1 492.7,268.0 493.2,269.4 493.9,270.7 494.5,273.5 495.2,275.8 495.8,277.3 496.5,279.9 497.1,282.2 497.8,283.7 498.4,285.4 499.1,287.1 499.7,289.2 500.4,291.6 501.2,293.2 501.9,295.2 502.7,297.5 503.5,300.6 504.3,302.2 505.0,304.8 505.8,306.4 506.5,309.0 507.2,310.8 507.9,311.5 508.7,314.9 509.4,315.5 510.1,318.5 510.8,320.0 512.1,322.1 513.4,323.3 514.7,324.6 516.2,326.0 517.8,327.7 518.4,329.0 519.0,331.0 519.6,333.9 520.2,335.3 520.8,337.7 522.3,339.3 523.9,340.8 525.6,341.6 527.4,342.6 529.1,343.9 530.9,345.4 533.2,346.5 535.5,346.9 537.8,347.6 540.1,348.5 542.4,348.7 544.8,349.0 547.1,349.1 549.4,349.3 551.5,349.0 553.6,349.6 555.7,349.1 557.8,348.5 559.9,349.1 562.0,350.5 564.0,350.0 566.0,349.5 568.0,349.5 570.0,349.5 572.2,349.0 574.5,350.4 576.8,350.4 579.0,350.5 581.3,349.4 583.6,348.6 585.8,350.2 588.0,350.5 590.0,350.1 592.0,350.5 594.0,350.9 596.0,350.3 598.0,350.3 600.0,350.0 602.0,349.9 604.0,351.0 606.0,350.8 608.0,350.5 609.8,349.1 611.5,348.1 613.3,347.3 615.6,349.0 618.0,350.5 620.0,350.5 622.0,350.5 624.0,350.0 626.0,350.6 628.0,350.8 630.0,350.5 632.1,351.0 634.2,350.5 636.3,350.6 638.4,350.7 640.5,350.8 642.6,350.8 644.7,350.1 646.8,350.5 648.9,351.7 651.0,351.0" fill="none" stroke="#000" stroke-width="1.5" stroke-linejoin="round"/>
<polyline points="442.0,290.2 442.7,287.4 443.4,284.8 445.6,286.3 447.9,288.6 450.1,288.9 452.1,292.3 454.8,292.9 457.5,293.7 460.2,294.3 463.2,295.1 466.3,295.4 467.5,296.5 468.6,299.2 469.8,301.4 471.0,303.0 475.0,301.7 476.2,304.5 477.4,304.7 478.6,307.3 479.8,309.8 481.8,307.0 483.8,306.4 484.9,309.9 486.1,312.3 487.2,314.5 489.2,315.0 491.2,317.9 495.3,316.5 496.6,320.0 498.0,322.2 499.3,323.3 500.4,323.3 501.7,325.7 503.1,327.6 504.4,328.5 505.8,330.1 507.1,333.4 508.1,331.4 509.2,329.3 511.2,329.5 513.2,331.2 515.2,333.4 516.7,334.8 518.1,337.5 520.4,337.6 522.7,340.1 525.0,341.6 527.7,342.6 530.4,344.8 533.1,345.0 535.4,346.0 537.7,347.3 540.0,347.9 542.3,348.2 544.6,349.0 547.0,348.7 549.3,348.6 551.6,349.5 554.4,351.1 557.2,351.5 560.0,350.5 562.5,351.5 565.0,351.2 567.5,350.3 570.0,350.1 572.5,350.4 575.0,351.0 577.5,350.0 580.0,351.9 582.5,351.0 585.0,352.2 587.5,351.1 590.0,351.5 592.2,352.6 594.4,352.3 596.7,350.0 598.9,350.5 601.1,352.3 603.3,351.1 605.6,352.4 607.8,350.8 610.0,351.0 612.2,349.9 614.4,351.4 616.7,351.9 618.9,350.6 621.1,350.2 623.3,350.9 625.6,352.6 627.8,352.1 630.0,351.5 632.3,350.5 634.7,350.7 637.0,350.3 639.3,350.1 641.7,352.0 644.0,350.3 646.3,351.3 648.7,350.9 651.0,351.0" fill="none" stroke="#e0141c" stroke-width="2" stroke-linejoin="round"/>
<polyline points="442.0,293.6 443.7,295.3 445.4,297.6 447.4,295.7 449.4,293.2 453.5,294.0 455.9,297.0 458.2,299.4 462.3,297.0 463.0,300.2 463.8,302.0 464.5,304.7 465.2,307.3 466.0,310.1 466.7,313.2 468.0,310.7 469.4,307.1 470.7,304.8 472.1,307.6 473.6,310.0 475.0,313.2 477.8,315.3 480.5,317.9 483.0,319.8 485.4,322.4 487.9,324.0 489.0,326.8 490.1,328.7 491.2,332.0 495.3,331.4 497.3,332.7 499.3,334.7 501.2,336.1 503.1,338.5 506.6,340.4 508.9,343.2 511.2,345.0 514.6,346.9 518.1,347.9 521.5,349.2 525.0,349.6 527.7,350.5 530.4,350.7 533.1,350.8 535.8,351.5 538.4,351.4 541.1,350.8 543.7,351.7 546.4,351.3 549.0,351.8 551.7,351.6 554.4,351.5 557.0,351.5 559.7,351.7 562.3,351.6 565.0,352.0 567.5,351.4 570.0,352.4 572.5,352.3 575.0,352.5 577.5,352.1 580.0,351.9 582.5,352.1 585.0,351.2 587.5,351.9 590.0,351.6 592.5,351.2 595.0,351.2 597.5,351.6 600.0,351.5 602.5,351.2 605.1,351.4 607.6,351.6 610.2,351.4 612.8,351.0 615.3,351.5 617.9,351.1 620.4,351.1 623.0,351.1 625.5,351.3 628.0,350.9 630.6,351.7 633.1,352.1 635.7,351.3 638.2,351.8 640.8,352.1 643.4,350.9 645.9,351.0 648.5,351.9 651.0,351.5" fill="none" stroke="#0f0fd8" stroke-width="2" stroke-linejoin="round"/>
<line x1="457.3" y1="351.7" x2="654" y2="351.7" stroke="#0f0fd8" stroke-width="1.5"/>
<line x1="524" y1="247.4" x2="524" y2="363" stroke="#000" stroke-width="1.7" stroke-dasharray="7.5,6"/>
<line x1="519.3" y1="321.6" x2="519.3" y2="374.5" stroke="#0f0fd8" stroke-width="2" stroke-dasharray="7,8"/>
<line x1="539.8" y1="322.3" x2="539.8" y2="361" stroke="#e0141c" stroke-width="2" stroke-dasharray="7.5,8"/>
<text x="500" y="241.5" font-family="Liberation Sans, sans-serif" font-weight="bold" font-size="22" textLength="82" lengthAdjust="spacingAndGlyphs">1.04 eV</text>
<text x="534.5" y="316.5" font-family="Liberation Sans, sans-serif" font-weight="bold" font-size="16.8" fill="#e0141c" textLength="63.5" lengthAdjust="spacingAndGlyphs">0.79 eV</text>
<text x="491.5" y="393.2" font-family="Liberation Sans, sans-serif" font-weight="bold" font-size="17.7" fill="#0f0fd8" textLength="65" lengthAdjust="spacingAndGlyphs">1.12 eV</text>
</svg>
</body></html>
